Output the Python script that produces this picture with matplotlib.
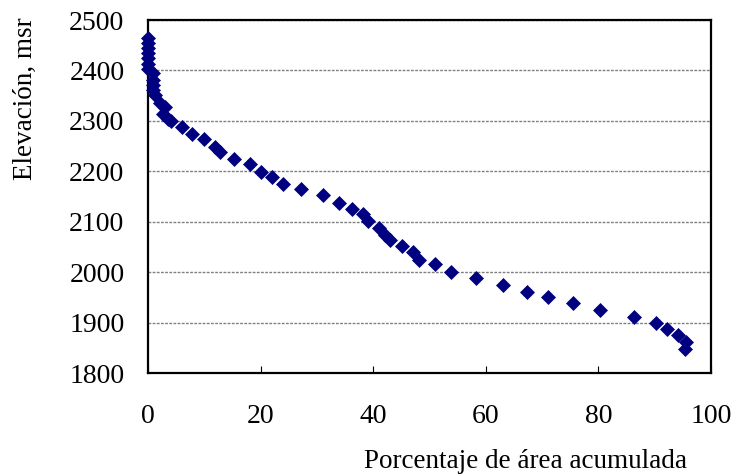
import matplotlib
matplotlib.use("Agg")
import matplotlib.pyplot as plt

# Data
area_pct = [0, 0, 0, 0, 0, 0, 0,
            0.9, 0.9, 0.9, 0.9, 1.2,
            2.1, 3.0, 2.7, 3.6, 4.0,
            6.0, 7.9, 10.0, 11.9, 12.7, 15.3, 18.1, 20.1, 22.0, 24.0,
            27.2, 31.0, 33.9, 36.2, 38.1, 39.0, 41.0, 42.1, 43.0, 45.2,
            47.1, 48.2, 51.0, 53.9, 58.2, 63.1, 67.3, 71.1, 75.4, 80.2,
            86.3, 90.2, 92.2, 94.1, 95.5, 95.4]
elevation = [2465, 2455, 2445, 2434, 2424, 2413, 2402,
             2394, 2382, 2371, 2361, 2351,
             2336, 2327, 2314, 2304, 2300,
             2287, 2273, 2264, 2249, 2238, 2224, 2214, 2199, 2188, 2174,
             2164, 2152, 2138, 2125, 2115, 2101, 2087, 2074, 2064, 2052,
             2039, 2024, 2016, 2001, 1989, 1974, 1961, 1951, 1938, 1925,
             1912, 1899, 1887, 1875, 1862, 1848]

x_ticks = [0, 20, 40, 60, 80, 100]
y_ticks = [1800, 1900, 2000, 2100, 2200, 2300, 2400, 2500]

plt.rcParams['font.family'] = ['Liberation Serif', 'DejaVu Serif']

fig = plt.figure(figsize=(7.36, 4.75), dpi=100)
ax = fig.add_axes([148 / 736, (475 - 373) / 475, (711 - 148) / 736, (373 - 20) / 475])

ax.plot(area_pct, elevation, linestyle='none', marker='D', markersize=6.8,
        markerfacecolor='#000080', markeredgecolor='#000080', markeredgewidth=0.5,
        clip_on=False, zorder=3)

ax.set_xlim(0, 100)
ax.set_ylim(1800, 2500)
ax.set_xticks(x_ticks)
ax.set_yticks(y_ticks)
ax.set_xticklabels([str(t) for t in x_ticks])
ax.set_yticklabels([str(t) for t in y_ticks])

ax.yaxis.grid(True, color='#808080', linewidth=1.0, linestyle=(0, (2, 1)))
ax.set_axisbelow(True)

for s in ax.spines.values():
    s.set_color('black')
    s.set_linewidth(1.6)

ax.tick_params(axis='x', direction='in', length=5, width=0.8, pad=22, labelsize=20)
ax.tick_params(axis='y', direction='in', length=0, pad=17, labelsize=20)

fig.text(525 / 736, 1 - 462 / 475, 'Porcentaje de área acumulada', fontsize=19.5,
         ha='center', va='center')
fig.text(25 / 736, 1 - 99 / 475, 'Elevación, msr', fontsize=19.5, rotation=90,
         ha='center', va='center')

fig.savefig('out.png', dpi=100)
